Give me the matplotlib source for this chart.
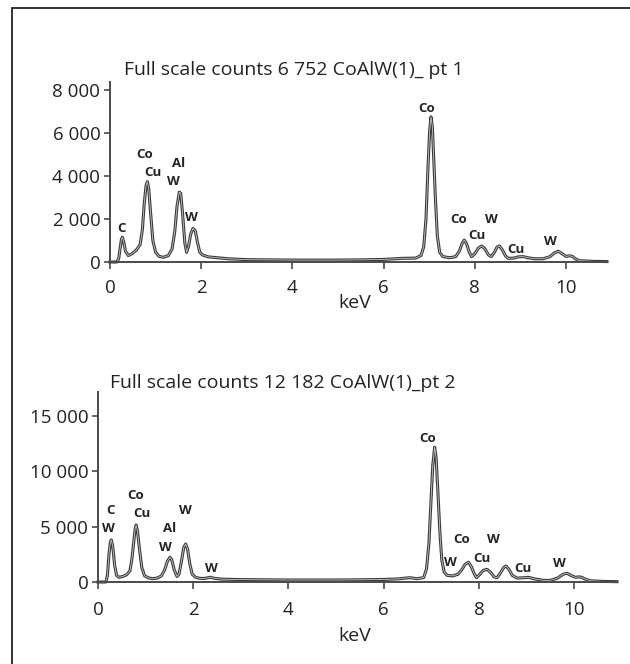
import matplotlib
matplotlib.use('Agg')
import matplotlib.pyplot as plt
from matplotlib.patches import Rectangle

plt.rcParams['font.family'] = ['Open Sans', 'DejaVu Sans']

# spectrum pt 1 (keV, counts)
top_kev = [0.00, 0.15, 0.19, 0.22, 0.25, 0.27, 0.30, 0.34, 0.40, 0.48, 0.58, 0.66,
           0.71, 0.75, 0.79, 0.82, 0.85, 0.89, 0.94, 1.00, 1.08, 1.17, 1.28, 1.36,
           1.42, 1.47, 1.52, 1.55, 1.59, 1.64, 1.68, 1.72, 1.77, 1.82, 1.87, 1.92,
           1.97, 2.03, 2.15, 2.35, 2.60, 3.00, 3.50, 4.00, 4.50, 5.00, 5.50, 6.00,
           6.40, 6.70, 6.82, 6.88, 6.93, 6.97, 7.01, 7.04, 7.07, 7.10, 7.14, 7.18,
           7.23, 7.30, 7.45, 7.58, 7.66, 7.72, 7.77, 7.82, 7.88, 7.93, 8.00, 8.08,
           8.15, 8.22, 8.30, 8.36, 8.43, 8.49, 8.54, 8.60, 8.67, 8.73, 8.85, 8.96,
           9.06, 9.16, 9.30, 9.50, 9.65, 9.75, 9.83, 9.92, 10.00, 10.08, 10.14,
           10.22, 10.30, 10.60, 10.90]
top_counts = [0, 0, 150, 600, 1050, 1150, 950, 500, 300, 380, 560, 800,
              1500, 2700, 3550, 3735, 3400, 2300, 1000, 450, 260, 220, 300, 600,
              1400, 2600, 3250, 3200, 2300, 900, 450, 700, 1300, 1560, 1450, 900,
              450, 330, 240, 200, 150, 110, 100, 90, 90, 90, 100, 120,
              170, 180, 300, 700, 2000, 4200, 6100, 6752, 6300, 4800, 2800, 1200,
              450, 250, 200, 250, 500, 850, 1020, 850, 450, 250, 380, 650,
              745, 620, 330, 250, 450, 700, 745, 580, 300, 170, 180, 240,
              250, 200, 150, 150, 250, 430, 500, 380, 260, 290, 260,
              130, 60, 30, 20]

# spectrum pt 2
bot_kev = [0.00, 0.17, 0.20, 0.23, 0.26, 0.28, 0.31, 0.35, 0.39, 0.44, 0.52, 0.60,
           0.67, 0.71, 0.75, 0.78, 0.80, 0.83, 0.87, 0.92, 0.98, 1.06, 1.14, 1.24,
           1.33, 1.40, 1.46, 1.51, 1.55, 1.60, 1.66, 1.70, 1.75, 1.80, 1.84, 1.88,
           1.93, 1.98, 2.05, 2.15, 2.25, 2.35, 2.45, 2.60, 3.00, 3.50, 4.00, 4.50,
           5.00, 5.50, 6.00, 6.30, 6.55, 6.70, 6.84, 6.90, 6.95, 6.99, 7.03, 7.07,
           7.10, 7.14, 7.18, 7.22, 7.27, 7.33, 7.45, 7.56, 7.64, 7.71, 7.78, 7.84,
           7.90, 7.95, 8.01, 8.09, 8.17, 8.25, 8.32, 8.38, 8.45, 8.52, 8.57, 8.63,
           8.70, 8.80, 8.92, 9.05, 9.15, 9.35, 9.50, 9.65, 9.77, 9.85, 9.93, 10.02,
           10.10, 10.15, 10.24, 10.34, 10.60, 10.90]
bot_counts = [0, 0, 700, 2500, 3600, 3800, 3200, 1500, 600, 420, 500, 650,
              1000, 2000, 3600, 4800, 5150, 4600, 3000, 1300, 550, 380, 300, 350,
              550, 1100, 1900, 2230, 2000, 1100, 500, 700, 1800, 3100, 3430, 3000,
              1600, 700, 420, 320, 330, 430, 330, 260, 220, 200, 180, 180,
              180, 200, 230, 280, 390, 300, 400, 1200, 3500, 7000, 10500, 12182,
              11300, 8000, 4500, 2000, 900, 600, 550, 700, 1100, 1600, 1780, 1400,
              750, 400, 650, 1050, 1145, 850, 450, 400, 800, 1300, 1445, 1150,
              600, 350, 380, 420, 300, 150, 150, 350, 700, 790, 600, 430,
              460, 440, 250, 120, 50, 30]

# element labels (text, keV, counts)
top_labels = [('C', 0.26, 1570), ('Co', 0.77, 5010), ('Cu', 0.93, 4170),
              ('Al', 1.50, 4560), ('W', 1.39, 3735), ('W', 1.79, 2060),
              ('Co', 6.94, 7150), ('Co', 7.64, 1985), ('Cu', 8.04, 1210),
              ('W', 8.37, 1985), ('Cu', 8.90, 590), ('W', 9.65, 945)]
bot_labels = [('C', 0.27, 6440), ('W', 0.22, 4790), ('Co', 0.78, 7860),
              ('Cu', 0.92, 6200), ('W', 1.83, 6440), ('Al', 1.51, 4790),
              ('W', 1.41, 3130), ('W', 2.39, 1240), ('Co', 6.93, 12980),
              ('Co', 7.64, 3860), ('W', 8.30, 3860), ('W', 7.41, 1745),
              ('Cu', 8.06, 2140), ('Cu', 8.92, 1200), ('W', 9.69, 1630)]

top_yticks = [0, 2000, 4000, 6000, 8000]
top_yticklabels = ['0', '2 000', '4 000', '6 000', '8 000']
bot_yticks = [0, 5000, 10000, 15000]
bot_yticklabels = ['0', '5 000', '10 000', '15 000']
xticks = [0, 2, 4, 6, 8, 10]

W, H = 630, 664
fig = plt.figure(figsize=(W / 100, H / 100), dpi=100)

# outer frame (right/bottom edges fall outside the picture)
fig.add_artist(Rectangle((12 / W, -0.05), 1.2, 1 - 8 / H + 0.05,
                         transform=fig.transFigure, fill=False,
                         edgecolor='#222222', lw=1.3))


def setup_axes(ax, yticks, yticklabels, ymax, xpad):
    ax.set_xlim(0, 10.9)
    ax.set_ylim(0, ymax)
    for s in ['top', 'right']:
        ax.spines[s].set_visible(False)
    for s in ['left', 'bottom']:
        ax.spines[s].set_color('#4a4a4a')
        ax.spines[s].set_linewidth(1.4)
    ax.set_xticks(xticks)
    ax.set_xticklabels([str(t) for t in xticks])
    ax.set_yticks(yticks)
    ax.set_yticklabels(yticklabels)
    ax.tick_params(axis='y', direction='out', length=4, width=1.2,
                   color='#4a4a4a', labelsize=13.5, pad=3, labelcolor='#222222')
    ax.tick_params(axis='x', direction='out', length=5, width=1.2,
                   color='#4a4a4a', labelsize=13.5, pad=xpad, labelcolor='#222222')
    ax.patch.set_alpha(0)


def draw_spectrum(ax, kev, counts, labels):
    ax.plot(kev, counts, color='#3a3a3a', lw=2.2, solid_joinstyle='round', clip_on=False)
    ax.plot(kev, counts, color='#c8c8c8', lw=0.6, solid_joinstyle='round', clip_on=False)
    for txt, x, y in labels:
        ax.text(x, y, txt, ha='center', va='center', fontsize=9.5,
                fontweight='bold', color='#222222')


# top panel
ax1 = fig.add_axes([110 / W, 1 - 262 / H, 497 / W, 180 / H])
setup_axes(ax1, top_yticks, top_yticklabels, 8372, 7)
draw_spectrum(ax1, top_kev, top_counts, top_labels)
ax1.text(0.493, -0.225, 'keV', transform=ax1.transAxes, ha='center',
         va='center', fontsize=14, color='#222222')
fig.text(124 / W, 1 - 70 / H, 'Full scale counts 6 752 CoAlW(1)_ pt 1',
         ha='left', va='center', fontsize=14, color='#222222')

# bottom panel
ax2 = fig.add_axes([98 / W, 1 - 582 / H, 519 / W, 190 / H])
setup_axes(ax2, bot_yticks, bot_yticklabels, 17170, 9)
draw_spectrum(ax2, bot_kev, bot_counts, bot_labels)
ax2.text(0.495, -0.285, 'keV', transform=ax2.transAxes, ha='center',
         va='center', fontsize=14, color='#222222')
fig.text(110 / W, 1 - 383 / H, 'Full scale counts 12 182 CoAlW(1)_pt 2',
         ha='left', va='center', fontsize=14, color='#222222')

fig.savefig('out.png', dpi=100)
